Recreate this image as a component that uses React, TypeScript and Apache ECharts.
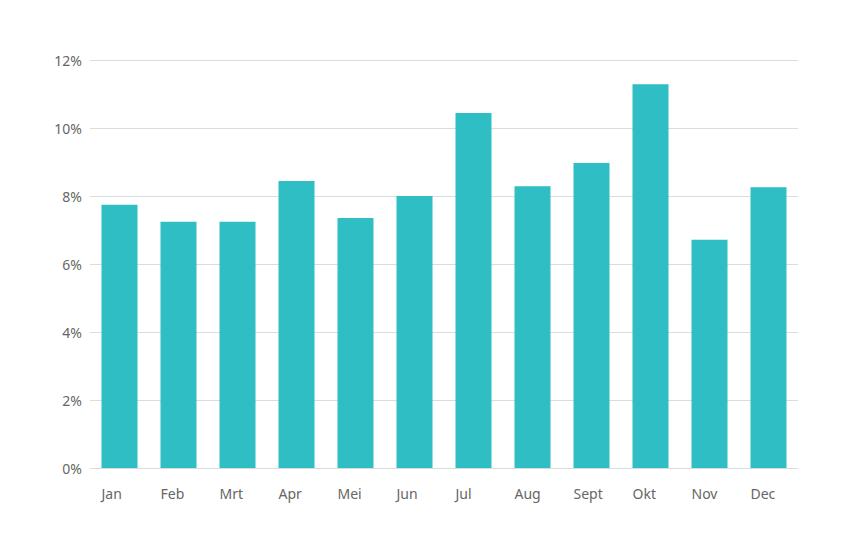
import React, { useEffect, useRef } from "react";
import * as echarts from "echarts";

const months = ["Jan", "Feb", "Mrt", "Apr", "Mei", "Jun", "Jul", "Aug", "Sept", "Okt", "Nov", "Dec"];
const values = [7.74, 7.24, 7.24, 8.44, 7.35, 8.0, 10.44, 8.29, 8.97, 11.29, 6.71, 8.26];
const yMin = 0;
const yMax = 12;
const yStep = 2;

export default function App() {
  const ref = useRef<HTMLDivElement>(null);
  useEffect(() => {
    if (!ref.current) return;
    const chart = echarts.init(ref.current, undefined, { renderer: "svg" });
    chart.setOption({
      animation: false,
      backgroundColor: "#ffffff",
      grid: { left: 90, right: 59, top: 60, bottom: 88, containLabel: false },
      xAxis: {
        type: "category",
        data: months,
        axisLine: { show: true, lineStyle: { color: "#dcdcdc", width: 1 } },
        axisTick: { show: false },
        axisLabel: {
          interval: 0,
          margin: 18,
          color: "#666666",
          fontFamily: "Noto Sans",
          fontSize: 14,
          align: "center",
          formatter: (v: string) => "{a|" + v + "}",
          rich: { a: { width: 36, align: "left", color: "#666666", fontFamily: "Noto Sans", fontSize: 14 } },
        },
      },
      yAxis: {
        type: "value",
        min: yMin,
        max: yMax,
        interval: yStep,
        axisLine: { show: false },
        axisTick: { show: false },
        axisLabel: {
          margin: 8,
          color: "#666666",
          fontFamily: "Noto Sans",
          fontSize: 14,
          formatter: "{value}%",
        },
        splitLine: { lineStyle: { color: "#dcdcdc", width: 1 } },
      },
      series: [
        {
          type: "bar",
          data: values,
          barWidth: 36,
          itemStyle: { color: "#2ebec4" },
        },
      ],
    });
    return () => chart.dispose();
  }, []);
  return <div ref={ref} style={{ width: 857, height: 556, position: "absolute", left: 0, top: 0 }} />;
}
